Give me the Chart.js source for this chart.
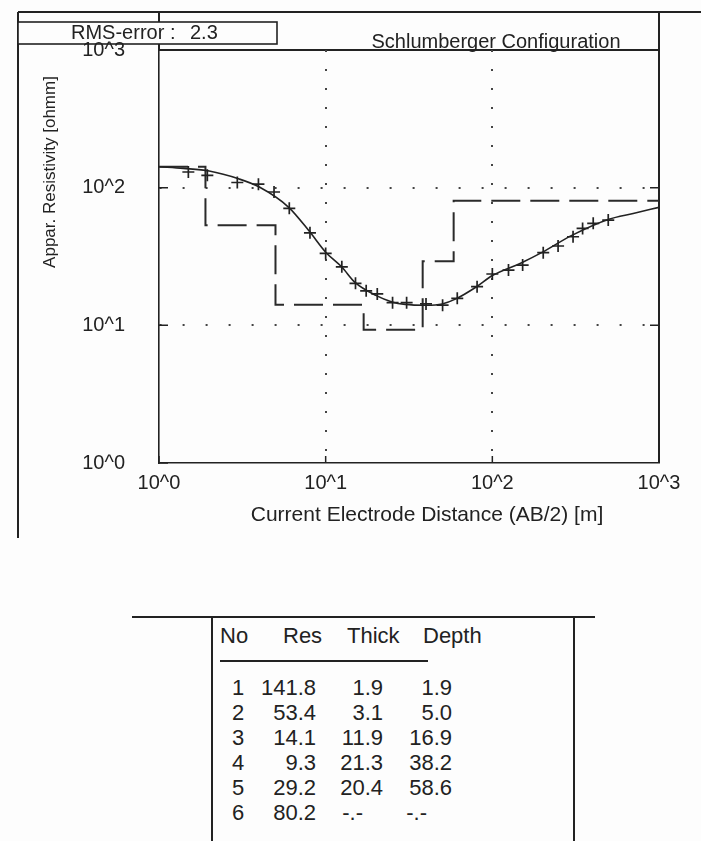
<!DOCTYPE html>
<html>
<head>
<meta charset="utf-8">
<script src="https://cdn.jsdelivr.net/npm/chart.js@4.4.1/dist/chart.umd.min.js"></script>
<style>
  body { margin: 0; width: 701px; height: 841px; overflow: hidden; position: relative;
         background: #fdfdfd; color: #222; font-family: "Liberation Sans", Arial, sans-serif; }
  #plot { position: absolute; left: 0; top: 0; width: 701px; height: 560px; }
  .ln { position: absolute; background: #222; }
  .cell { position: absolute; font-size: 22px; line-height: 25px; white-space: nowrap; }
</style>
</head>
<body>
<div id="plot"><canvas id="resistivity-chart"></canvas></div>
<div id="layer-table"></div>
<script>
// measured apparent resistivity (crosses)
const measAB  = [1.5, 1.95, 2.95, 3.95, 4.9, 6.05, 8.05, 10, 12.5, 15.1, 17.5, 20.4, 25.2, 30.6, 40, 50.3, 61.6, 81, 100, 125, 152, 202, 248, 305, 348, 403, 496];
const measRho = [130, 123, 109, 106, 93, 70.8, 47, 33.3, 26.6, 20.2, 17.8, 16.9, 14.6, 14.6, 14.3, 14.0, 15.7, 19.1, 23.6, 25.2, 27.4, 33.7, 37.7, 44.0, 50.6, 55.1, 58.2];

// computed model curve (solid line)
const curveAB  = [1, 1.4, 2, 3, 4, 6, 8, 10, 12.5, 15, 20, 25, 30, 40, 50, 60, 80, 100, 150, 200, 300, 500, 700, 1000];
const curveRho = [142, 138, 132, 116, 101, 72, 48, 34, 26.5, 20.5, 16.5, 14.8, 14.2, 14.0, 14.3, 15.5, 19, 23, 28.5, 34, 45, 59, 65, 72];

// layer model (table + dashed step line)
const layerNo    = [1, 2, 3, 4, 5, 6];
const layerRes   = [141.8, 53.4, 14.1, 9.3, 29.2, 80.2];
const layerThick = [1.9, 3.1, 11.9, 21.3, 20.4, null];
const layerDepth = [1.9, 5.0, 16.9, 38.2, 58.6, null];

const xTicksPow = [1, 10, 100, 1000];
const rmsError = 2.3;

const X_MIN = 1, X_MAX = 1000;

const isPow10 = v => xTicksPow.some(p => Math.abs(v - p) < 1e-9);
const isInnerGrid = v => v != null && isPow10(v) && v > X_MIN && v < X_MAX;
const powLabel = v => isPow10(v) ? '10^' + Math.round(Math.log10(v)) : null;

const stepX = [X_MIN].concat(layerDepth.filter(d => d != null)).concat([X_MAX]);
const stepY = layerRes.concat([layerRes[layerRes.length - 1]]);

const FONT = '"Liberation Sans", Arial, sans-serif';
Chart.defaults.font.family = FONT;
Chart.defaults.color = '#222';

const ink = '#222';

// frame, boxes and titles (drawn under the scales so 10^3 stays visible)
const frameDecor = {
    id: 'frameDecor',
    beforeDraw(chart) {
        const {ctx, chartArea: a} = chart;
        ctx.save();
        ctx.strokeStyle = ink;
        ctx.fillStyle = ink;

        ctx.lineWidth = 2;
        ctx.beginPath();
        ctx.moveTo(18, 12); ctx.lineTo(701, 12);
        ctx.moveTo(18, 12); ctx.lineTo(18, 538);
        ctx.moveTo(a.left, 12); ctx.lineTo(a.left, a.top);
        ctx.moveTo(a.right, 12); ctx.lineTo(a.right, a.bottom);
        ctx.moveTo(a.left, a.top); ctx.lineTo(a.right, a.top);
        ctx.stroke();

        // RMS box
        ctx.fillStyle = '#fdfdfd';
        ctx.fillRect(18, 22, 259, 22);
        ctx.lineWidth = 1.6;
        ctx.strokeRect(18, 22, 259, 22);
        ctx.fillStyle = ink;
        ctx.font = '20px ' + FONT;
        ctx.textAlign = 'left';
        ctx.textBaseline = 'middle';
        ctx.fillText('RMS-error :', 71, 33);
        ctx.fillText(String(rmsError), 190, 33);

        // chart title
        ctx.textAlign = 'center';
        ctx.fillText('Schlumberger Configuration', 496, 42);

        // x axis title
        ctx.font = '21px ' + FONT;
        ctx.fillText('Current Electrode Distance (AB/2) [m]', 427, 515);

        // y axis title
        ctx.font = '17px ' + FONT;
        ctx.translate(50, 172);
        ctx.rotate(-Math.PI / 2);
        ctx.fillText('Appar. Resistivity [ohmm]', 0, 0);
        ctx.restore();
    },
    afterDraw(chart) {
        const {ctx, chartArea: a, scales: {x, y}} = chart;
        ctx.save();
        ctx.strokeStyle = ink;
        ctx.lineWidth = 1.5;
        ctx.beginPath();
        x.ticks.forEach(t => {
            const px = x.getPixelForValue(t.value);
            const len = isPow10(t.value) ? 7 : 4;
            ctx.moveTo(px, a.bottom); ctx.lineTo(px, a.bottom - len);
        });
        y.ticks.forEach(t => {
            const py = y.getPixelForValue(t.value);
            const len = isPow10(t.value) ? 9 : 4;
            ctx.moveTo(a.left, py); ctx.lineTo(a.left + len, py);
        });
        xTicksPow.filter(isInnerGrid).forEach(v => {
            const py = y.getPixelForValue(v);
            ctx.moveTo(a.right, py); ctx.lineTo(a.right - 9, py);
        });
        ctx.stroke();
        ctx.restore();
    }
};

new Chart(document.getElementById('resistivity-chart'), {
    type: 'line',
    data: {
        datasets: [
            {
                label: 'Model curve',
                data: curveAB.map((v, i) => ({x: v, y: curveRho[i]})),
                borderColor: ink,
                borderWidth: 1.6,
                pointRadius: 0,
                cubicInterpolationMode: 'monotone'
            },
            {
                label: 'Measured',
                data: measAB.map((v, i) => ({x: v, y: measRho[i]})),
                showLine: false,
                pointStyle: 'cross',
                pointRadius: 6,
                borderColor: ink,
                backgroundColor: ink,
                borderWidth: 1.7
            },
            {
                label: 'Layers',
                data: stepX.map((v, i) => ({x: v, y: stepY[i]})),
                stepped: true,
                borderDash: [29, 10],
                borderColor: '#2a2a2a',
                borderWidth: 2,
                pointRadius: 0
            }
        ]
    },
    options: {
        responsive: true,
        maintainAspectRatio: false,
        animation: false,
        layout: { padding: { left: 18, right: 42, top: 50, bottom: 0 } },
        plugins: { legend: { display: false }, tooltip: { enabled: false } },
        scales: {
            x: {
                type: 'logarithmic',
                min: X_MIN, max: X_MAX,
                afterFit: s => { s.height = 97; },
                grid: {
                    drawTicks: false,
                    lineWidth: 2,
                    color: c => isInnerGrid(c.tick && c.tick.value) ? '#444' : 'rgba(0,0,0,0)'
                },
                border: { color: ink, width: 1.6, dash: [2, 17] },
                ticks: { autoSkip: false, maxRotation: 0, padding: 8, font: { size: 20 }, callback: powLabel }
            },
            y: {
                type: 'logarithmic',
                min: X_MIN, max: X_MAX,
                afterFit: s => { s.width = 141; },
                grid: {
                    drawTicks: false,
                    lineWidth: 2,
                    color: c => isInnerGrid(c.tick && c.tick.value) ? '#444' : 'rgba(0,0,0,0)'
                },
                border: { color: ink, width: 1.6, dash: [2, 21] },
                ticks: { autoSkip: false, padding: 34, font: { size: 20 }, callback: powLabel }
            }
        }
    },
    plugins: [frameDecor]
});

// layer table
const tbl = document.getElementById('layer-table');
function addLine(l, t, w, h) {
    const d = document.createElement('div');
    d.className = 'ln';
    Object.assign(d.style, {left: l + 'px', top: t + 'px', width: w + 'px', height: h + 'px'});
    tbl.appendChild(d);
}
function addCell(text, xPos, yc, alignRight) {
    const d = document.createElement('div');
    d.className = 'cell';
    d.textContent = text;
    d.style.top = (yc - 12.5) + 'px';
    if (alignRight) d.style.right = (701 - xPos) + 'px';
    else d.style.left = xPos + 'px';
    tbl.appendChild(d);
}
addLine(132, 616, 463, 2);
addLine(211, 616, 2, 230);
addLine(573, 616, 2, 230);
addLine(220, 660, 208, 1.5);

addCell('No', 220, 635);
addCell('Res', 283, 635);
addCell('Thick', 347, 635);
addCell('Depth', 423, 635);

const fmt = v => v == null ? '-.-' : v.toFixed(1);
// number columns: right edge for values, right edge for the "-.-" placeholder
const colRight = [316, 383, 452];
const colDashRight = [316, 363, 427];
layerNo.forEach((n, i) => {
    const yc = 687 + i * 25;
    addCell(String(n), 232, yc);
    [layerRes[i], layerThick[i], layerDepth[i]].forEach((v, c) => {
        addCell(fmt(v), v == null ? colDashRight[c] : colRight[c], yc, true);
    });
});
</script>
</body>
</html>
